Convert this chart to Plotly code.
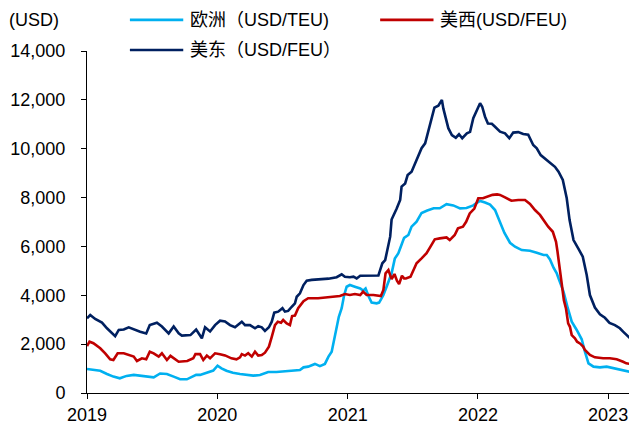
import plotly.graph_objects as go

# 欧洲 (USD/TEU)
eu_dates = ["2019-01-01", "2019-01-19", "2019-02-07", "2019-02-26", "2019-03-16", "2019-04-03", "2019-04-22",
            "2019-05-12", "2019-05-30", "2019-06-18", "2019-07-07", "2019-07-25", "2019-08-13", "2019-09-01",
            "2019-09-19", "2019-10-08", "2019-10-22", "2019-11-03", "2019-11-14", "2019-11-28", "2019-12-12",
            "2019-12-21", "2020-01-02", "2020-01-13", "2020-01-27", "2020-02-14", "2020-03-05", "2020-03-24",
            "2020-04-11", "2020-04-30", "2020-05-09", "2020-05-23", "2020-06-15", "2020-07-09", "2020-08-01",
            "2020-08-20", "2020-08-30", "2020-09-12", "2020-10-01", "2020-10-15", "2020-10-29", "2020-11-08",
            "2020-11-17", "2020-11-24", "2020-12-01", "2020-12-07", "2020-12-15", "2020-12-22", "2020-12-29",
            "2021-01-07", "2021-01-21", "2021-02-05", "2021-02-13", "2021-02-20", "2021-03-01", "2021-03-09",
            "2021-03-23", "2021-03-30", "2021-04-05", "2021-04-11", "2021-04-20", "2021-05-04", "2021-05-13",
            "2021-05-23", "2021-05-30", "2021-06-08", "2021-06-20", "2021-06-29", "2021-07-13", "2021-07-27",
            "2021-08-12", "2021-08-30", "2021-09-16", "2021-10-05", "2021-10-24", "2021-11-12", "2021-11-30",
            "2021-12-19", "2022-01-02", "2022-01-07", "2022-01-21", "2022-02-04", "2022-02-18", "2022-03-04",
            "2022-03-16", "2022-04-01", "2022-04-15", "2022-05-04", "2022-05-27", "2022-06-15", "2022-07-04",
            "2022-07-13", "2022-07-22", "2022-08-01", "2022-08-10", "2022-08-15", "2022-08-29", "2022-09-10",
            "2022-09-21", "2022-10-05", "2022-10-19", "2022-10-28", "2022-11-07", "2022-11-21", "2022-12-09",
            "2022-12-28", "2023-01-20", "2023-02-08", "2023-03-03", "2023-03-24"]
eu_vals = [980, 960, 910, 780, 670, 600, 700,
           740, 700, 670, 640, 800, 780, 670,
           560, 560, 670, 740, 740, 800, 870,
           920, 1120, 1010, 910, 830, 780, 740,
           710, 740, 800, 860, 860, 890, 910,
           940, 1050, 1080, 1190, 1100, 1190, 1490,
           1690, 2170, 2650, 3120, 3470, 4010, 4350,
           4420, 4350, 4280, 4190, 4280, 3940, 3700,
           3670, 3700, 3850, 4010, 4350, 4900, 5500,
           5720, 6000, 6350, 6470, 6810, 7010, 7370,
           7470, 7560, 7560, 7730, 7680, 7560, 7570,
           7680, 7820, 7860, 7800, 7710, 7490, 6950,
           6560, 6150, 5990, 5850, 5820, 5740, 5650,
           5650, 5470, 5130, 4900, 4690, 4150, 3470,
           2920, 2580, 2200, 1690, 1215, 1080, 1050,
           1080, 1010, 940, 870, 870]

# 美西 (USD/FEU)
usw_dates = ["2019-01-01", "2019-01-08", "2019-01-19", "2019-02-07", "2019-02-21", "2019-03-07", "2019-03-16",
             "2019-03-28", "2019-04-14", "2019-04-28", "2019-05-12", "2019-05-21", "2019-06-04", "2019-06-16",
             "2019-06-26", "2019-07-07", "2019-07-21", "2019-07-30", "2019-08-13", "2019-08-23", "2019-09-06",
             "2019-09-15", "2019-10-09", "2019-10-26", "2019-11-01", "2019-11-14", "2019-11-23", "2019-12-03",
             "2019-12-12", "2019-12-26", "2020-01-09", "2020-01-23", "2020-02-10", "2020-02-24", "2020-03-05",
             "2020-03-10", "2020-03-19", "2020-03-28", "2020-04-07", "2020-04-16", "2020-04-25", "2020-05-05",
             "2020-05-14", "2020-05-19", "2020-05-25", "2020-06-02", "2020-06-11", "2020-06-19", "2020-06-28",
             "2020-07-04", "2020-07-14", "2020-07-23", "2020-07-29", "2020-08-06", "2020-08-15", "2020-08-30",
             "2020-09-12", "2020-10-10", "2020-11-08", "2020-11-26", "2020-12-10", "2020-12-24", "2021-01-07",
             "2021-01-21", "2021-02-05", "2021-02-13", "2021-02-23", "2021-03-14", "2021-04-04", "2021-04-11",
             "2021-04-17", "2021-04-25", "2021-05-04", "2021-05-12", "2021-05-19", "2021-05-25", "2021-06-02",
             "2021-06-08", "2021-06-13", "2021-06-26", "2021-07-13", "2021-07-27", "2021-08-10", "2021-08-21",
             "2021-09-02", "2021-09-16", "2021-10-05", "2021-10-14", "2021-10-28", "2021-11-06", "2021-11-20",
             "2021-11-29", "2021-12-09", "2021-12-22", "2022-01-02", "2022-01-15", "2022-01-29", "2022-02-11",
             "2022-02-24", "2022-03-04", "2022-03-18", "2022-04-05", "2022-04-24", "2022-05-13", "2022-05-27",
             "2022-06-10", "2022-06-24", "2022-07-08", "2022-07-17", "2022-07-30", "2022-08-08", "2022-08-12",
             "2022-08-17", "2022-08-24", "2022-08-30", "2022-09-05", "2022-09-11", "2022-09-16", "2022-09-21",
             "2022-09-30", "2022-10-06", "2022-10-14", "2022-10-23", "2022-10-28", "2022-11-06", "2022-11-11",
             "2022-11-25", "2022-12-18", "2023-01-06", "2023-01-25", "2023-02-12", "2023-02-21", "2023-03-03",
             "2023-03-24"]
usw_vals = [1920, 2100, 2040, 1830, 1625, 1380, 1350,
            1625, 1625, 1555, 1490, 1310, 1420, 1380,
            1690, 1625, 1490, 1625, 1350, 1520, 1350,
            1280, 1310, 1420, 1590, 1590, 1350, 1530,
            1420, 1625, 1590, 1540, 1420, 1380, 1460,
            1590, 1530, 1625, 1490, 1690, 1530, 1555,
            1650, 1760, 1900, 2300, 2780, 2920, 2880,
            2990, 2850, 2780, 3150, 3170, 3470, 3760,
            3880, 3880, 3920, 3960, 3970, 4050, 4010,
            4050, 4010, 4150, 4010, 4010, 3970, 4220,
            4900, 5030, 4660, 4870, 4600, 4460, 4800,
            4690, 4690, 4760, 5310, 5510, 5720, 5990,
            6290, 6330, 6370, 6260, 6470, 6740, 6810,
            7010, 7350, 7550, 7970, 7970, 8040, 8110,
            8130, 8110, 8010, 7870, 7900, 7900, 7740,
            7490, 7290, 7000, 6810, 6600, 6190, 5800,
            5300, 4450, 3800, 3450, 2850, 2710, 2370,
            2240, 2100, 2030, 1900, 1760, 1625, 1555,
            1460, 1420, 1420, 1380, 1280, 1215, 1190,
            1150]

# 美东 (USD/FEU)
use_dates = ["2019-01-01", "2019-01-10", "2019-01-24", "2019-02-12", "2019-02-26", "2019-03-12", "2019-03-21",
             "2019-03-31", "2019-04-14", "2019-04-28", "2019-05-16", "2019-05-30", "2019-06-16", "2019-06-26",
             "2019-07-16", "2019-07-30", "2019-08-18", "2019-09-01", "2019-09-15", "2019-09-24", "2019-10-18",
             "2019-11-03", "2019-11-19", "2019-11-28", "2019-12-12", "2019-12-26", "2020-01-09", "2020-01-23",
             "2020-02-06", "2020-02-20", "2020-03-10", "2020-03-19", "2020-04-02", "2020-04-16", "2020-04-25",
             "2020-05-05", "2020-05-14", "2020-05-25", "2020-06-02", "2020-06-09", "2020-06-20", "2020-07-02",
             "2020-07-09", "2020-07-18", "2020-07-28", "2020-08-06", "2020-08-11", "2020-08-20", "2020-08-30",
             "2020-09-08", "2020-09-22", "2020-10-15", "2020-11-08", "2020-12-01", "2020-12-15", "2020-12-24",
             "2021-01-07", "2021-01-17", "2021-01-26", "2021-02-05", "2021-02-28", "2021-03-19", "2021-03-28",
             "2021-04-02", "2021-04-08", "2021-04-16", "2021-04-23", "2021-04-30", "2021-05-04", "2021-05-11",
             "2021-05-18", "2021-05-28", "2021-06-01", "2021-06-11", "2021-06-18", "2021-06-29", "2021-07-13",
             "2021-07-27", "2021-08-06", "2021-08-15", "2021-08-25", "2021-09-01", "2021-09-12", "2021-09-22",
             "2021-09-26", "2021-10-03", "2021-10-10", "2021-10-20", "2021-10-31", "2021-11-09", "2021-11-18",
             "2021-12-01", "2021-12-10", "2021-12-19", "2021-12-29", "2022-01-07", "2022-01-13", "2022-01-21",
             "2022-01-29", "2022-02-09", "2022-02-18", "2022-03-04", "2022-03-18", "2022-03-30", "2022-04-10",
             "2022-04-24", "2022-05-08", "2022-05-22", "2022-06-05", "2022-06-15", "2022-06-26", "2022-07-08",
             "2022-07-22", "2022-08-05", "2022-08-15", "2022-08-27", "2022-09-07", "2022-09-15", "2022-09-26",
             "2022-10-10", "2022-10-22", "2022-11-02", "2022-11-11", "2022-11-25", "2022-12-09", "2022-12-23",
             "2023-01-05", "2023-01-20", "2023-02-03", "2023-02-12", "2023-02-21", "2023-03-03", "2023-03-24"]
use_vals = [3060, 3190, 3030, 2880, 2650, 2440, 2330,
            2580, 2600, 2690, 2580, 2510, 2440, 2780,
            2880, 2720, 2440, 2720, 2440, 2350, 2370,
            2600, 2240, 2690, 2520, 2780, 2960, 2930,
            2780, 2690, 2920, 2780, 2780, 2650, 2740,
            2690, 2540, 2690, 2920, 3290, 3330, 3470,
            3330, 3360, 3530, 3670, 3940, 4080, 4420,
            4600, 4630, 4650, 4680, 4740, 4860, 4760,
            4740, 4760, 4690, 4800, 4810, 4790, 4810,
            5040, 5310, 5440, 5990, 6400, 7100, 7360,
            7540, 7900, 8450, 8580, 8920, 9060, 9540,
            10020, 10220, 10770, 11250, 11680, 11760, 12000,
            11650, 11250, 10840, 10560, 10450, 10590, 10430,
            10630, 10690, 11250, 11590, 11860, 11720, 11310,
            11030, 11020, 10900, 10700, 10630, 10430, 10660,
            10680, 10600, 10570, 10150, 10020, 9740, 9580,
            9430, 9260, 9060, 8720, 7970, 7080, 6260,
            5900, 5580, 4830, 4010, 3500, 3220, 3080,
            2870, 2780, 2650, 2510, 2370, 2250, 2030]

year_ticks = ["2019-01-01", "2020-01-01", "2021-01-01", "2022-01-01", "2023-01-01"]
year_labels = ["2019", "2020", "2021", "2022", "2023"]

names = ["欧洲（USD/TEU)", "美西(USD/FEU)", "美东（USD/FEU）"]
colors = ["#00B0F0", "#C00000", "#002060"]

font_family = "Liberation Sans, Arial, Noto Sans CJK SC"

fig = go.Figure()
for d, v, n, c in [(eu_dates, eu_vals, names[0], colors[0]),
                   (usw_dates, usw_vals, names[1], colors[1]),
                   (use_dates, use_vals, names[2], colors[2])]:
    fig.add_trace(go.Scatter(x=d, y=v, mode="lines", name=n,
                             line=dict(color=c, width=2.6)))

# hand-made legend (two rows like the original)
legend_pos = [(0.078, 1.091), (0.533, 1.091), (0.078, 1.003)]
for (lx, ly), n, c in zip(legend_pos, names, colors):
    fig.add_shape(type="line", xref="paper", yref="paper",
                  x0=lx, x1=lx + 0.097, y0=ly, y1=ly,
                  line=dict(color=c, width=2.6))
    fig.add_annotation(x=lx + 0.106, y=ly, xref="paper", yref="paper",
                       text=n, showarrow=False, xanchor="left", yanchor="middle",
                       font=dict(size=18, color="#000000", family=font_family))

fig.add_annotation(x=-0.145, y=1.091, xref="paper", yref="paper", text="(USD)",
                   showarrow=False, xanchor="left", yanchor="middle",
                   font=dict(size=18, color="#000000", family=font_family))

# the page body adds an 8px margin, so the figure is sized to fit inside it
fig.update_layout(
    width=629, height=421,
    margin=dict(l=79, r=0, t=43, b=36),
    paper_bgcolor="white", plot_bgcolor="white",
    showlegend=False,
    font=dict(family=font_family, size=18, color="#000000"),
    xaxis=dict(
        range=["2019-01-01", "2023-03-23"],
        tickvals=year_ticks, ticktext=year_labels,
        showgrid=False, zeroline=False,
        showline=True, linecolor="#000000", linewidth=1,
        ticks="outside", ticklen=5, tickcolor="#000000",
        automargin=False,
    ),
    yaxis=dict(
        range=[0, 14000], dtick=2000, tickformat=",",
        showgrid=False, zeroline=False,
        showline=True, linecolor="#000000", linewidth=1,
        ticks="outside", ticklen=5, tickcolor="#000000",
        ticklabelstandoff=12, automargin=False,
    ),
)

fig.write_html("out.html")
